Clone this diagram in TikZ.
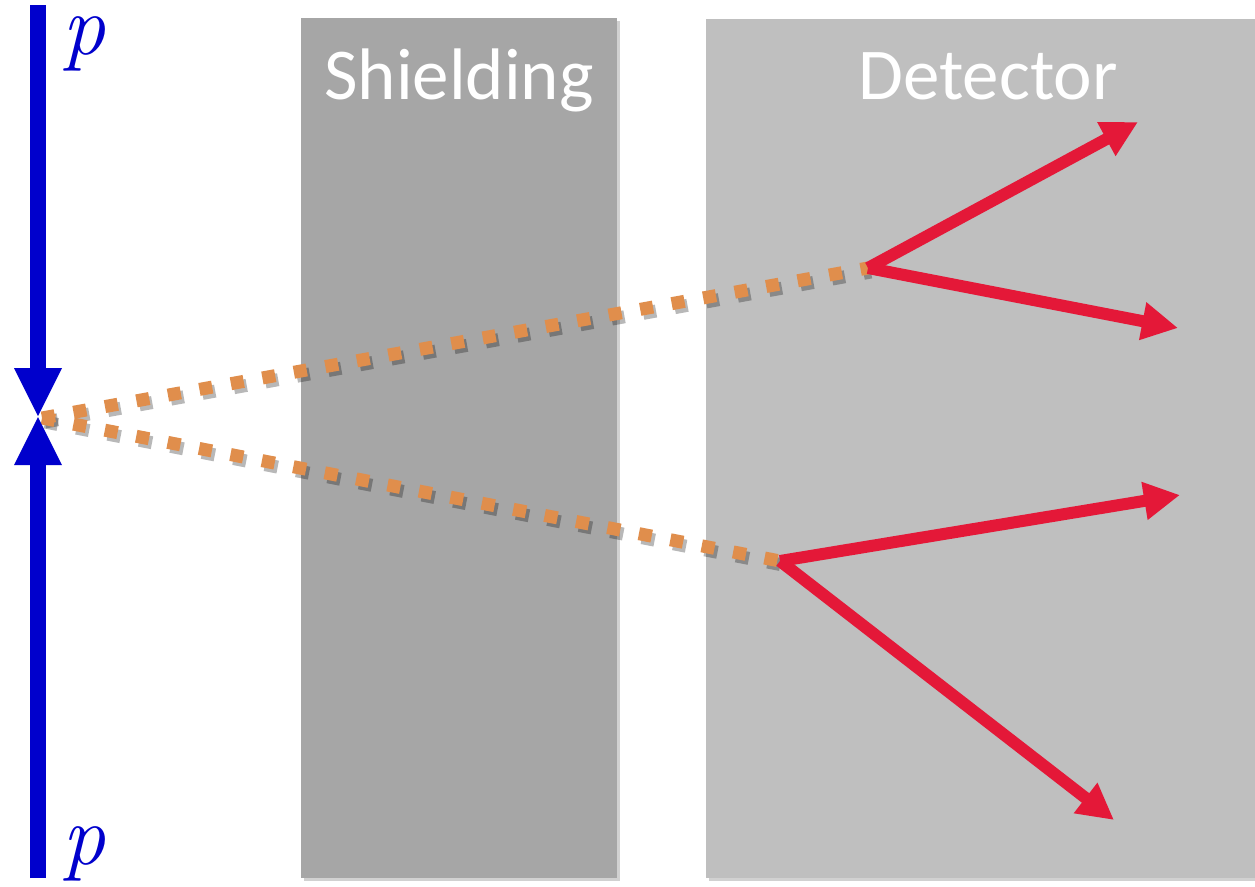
\documentclass[tikz,border=0pt]{standalone}
\usepackage{fontspec}
\setmainfont{Carlito}
\newfontfamily\pfont{Latin Modern Roman}
\usetikzlibrary{arrows.meta}
\definecolor{beamblue}{RGB}{0,0,204}
\definecolor{shieldgray}{RGB}{166,166,166}
\definecolor{detgray}{RGB}{191,191,191}
\definecolor{neutral}{RGB}{224,142,76}
\definecolor{showerred}{RGB}{228,24,56}
\tikzset{
  panelshadow/.style={fill=black, opacity=0.18},
  title/.style={text=white, font=\fontsize{73}{80}\selectfont, anchor=base, inner sep=0pt},
  beam/.style={draw=beamblue, line width=16pt},
  beamhead/.style={fill=beamblue, draw=none},
  plabel/.style={text=beamblue, font=\pfont\itshape\fontsize{86}{90}\selectfont, anchor=base, inner sep=0pt, text height=0.45em},
  neutraltrack/.style={draw=neutral, line width=13pt, dash pattern=on 13pt off 19pt},
  trackshadow/.style={draw=black, opacity=0.28, line width=13pt, dash pattern=on 13pt off 19pt},
  shower/.style={draw=showerred, line width=12pt, -{Triangle[length=36pt,width=36pt]}},
}
\begin{document}
\begin{tikzpicture}[x=1pt,y=-1pt]
  \useasboundingbox (0,0) rectangle (1255,886);
  \fill[white] (0,0) rectangle (1255,886);

  % shielding block and detector volume
  \fill[panelshadow] (304,21) rectangle (620,881);
  \fill[panelshadow] (709,22) rectangle (1255,881);
  \fill[shieldgray] (301,18) rectangle (617,878);
  \fill[detgray] (706,19) rectangle (1255,878);
  \node[title] (shtitle) at (459,99) {Shielding};
  \node[title] (dettitle) at (988,99) {Detector};

  % interaction point and the two decay vertices
  \coordinate (ip) at (42,418);
  \coordinate (v1) at (868,268);
  \coordinate (v2) at (780,561);

  % neutral particles (dotted) with their shadows
  \draw[trackshadow] ([shift={(3,4)}]ip) -- ([shift={(3,4)}]v1);
  \draw[trackshadow] ([shift={(3,4)}]ip) -- ([shift={(3,4)}]v2);
  \draw[neutraltrack] (ip) -- (v1);
  \draw[neutraltrack] (ip) -- (v2);

  % decay products
  \coordinate (e1) at (1138,122);
  \coordinate (e2) at (1178,328);
  \coordinate (e3) at (1180,495);
  \coordinate (e4) at (1114,820);
  \draw[shower] (v1) -- (e1);
  \draw[shower] (v1) -- (e2);
  \draw[shower] (v2) -- (e3);
  \draw[shower] (v2) -- (e4);

  % colliding proton beams
  \coordinate (btop) at (38,5);
  \coordinate (bbot) at (38,878);
  \coordinate (hdtop) at (38,368);
  \coordinate (hdbot) at (38,465);
  \draw[beam, line cap=butt] (btop) -- (hdtop);
  \draw[beam, line cap=butt] (bbot) -- (hdbot);
  \fill[beamhead] (14,368) -- (62,368) -- (38,416) -- cycle;
  \fill[beamhead] (14,465) -- (62,465) -- (38,417) -- cycle;
  \node[plabel] (ptop) at (84,54) {p};
  \node[plabel] (pbot) at (84,864) {p};
\end{tikzpicture}
\end{document}
